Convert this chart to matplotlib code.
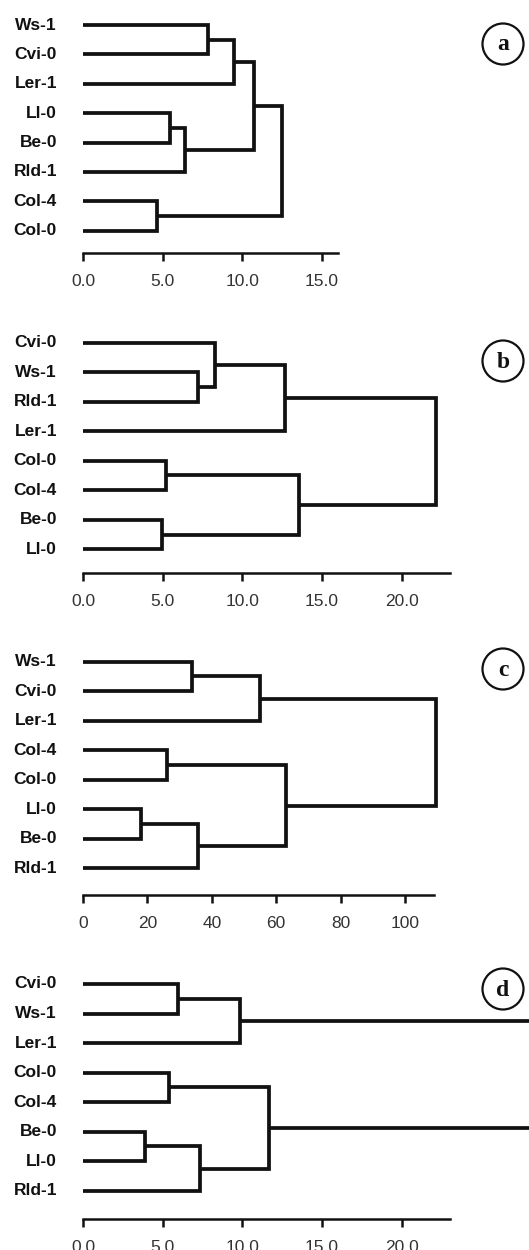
import matplotlib
matplotlib.use("Agg")
import matplotlib.pyplot as plt
from matplotlib.patches import Circle
from matplotlib.ticker import FormatStrFormatter

# ---------------- data ----------------
# panel a
leaves_a = ["Ws-1", "Cvi-0", "Ler-1", "Ll-0", "Be-0", "Rld-1", "Col-4", "Col-0"]
merges_a = [("Ws-1", "Cvi-0", 7.87), ("m0", "Ler-1", 9.50), ("Ll-0", "Be-0", 5.44),
            ("m2", "Rld-1", 6.39), ("m1", "m3", 10.73), ("Col-4", "Col-0", 4.65),
            ("m4", "m5", 12.52)]
ticks_a = [0, 5, 10, 15]

# panel b
leaves_b = ["Cvi-0", "Ws-1", "Rld-1", "Ler-1", "Col-0", "Col-4", "Be-0", "Ll-0"]
merges_b = [("Ws-1", "Rld-1", 7.22), ("Cvi-0", "m0", 8.28), ("m1", "Ler-1", 12.69),
            ("Col-0", "Col-4", 5.21), ("Be-0", "Ll-0", 4.98), ("m3", "m4", 13.58),
            ("m2", "m5", 22.16)]
ticks_b = [0, 5, 10, 15, 20]

# panel c
leaves_c = ["Ws-1", "Cvi-0", "Ler-1", "Col-4", "Col-0", "Ll-0", "Be-0", "Rld-1"]
merges_c = [("Ws-1", "Cvi-0", 33.96), ("m0", "Ler-1", 55.1), ("Col-4", "Col-0", 26.0),
            ("Ll-0", "Be-0", 18.0), ("m3", "Rld-1", 35.8), ("m2", "m4", 63.1),
            ("m1", "m5", 109.6)]
ticks_c = [0, 20, 40, 60, 80, 100]

# panel d
leaves_d = ["Cvi-0", "Ws-1", "Ler-1", "Col-0", "Col-4", "Be-0", "Ll-0", "Rld-1"]
merges_d = [("Cvi-0", "Ws-1", 5.95), ("m0", "Ler-1", 9.87), ("Col-0", "Col-4", 5.38),
            ("Be-0", "Ll-0", 3.90), ("m3", "Rld-1", 7.33), ("m2", "m4", 11.67),
            ("m1", "m5", 30.0)]
ticks_d = [0, 5, 10, 15, 20]

panel_letters = ["a", "b", "c", "d"]

# ---------------- layout (pixels) ----------------
W, H = 529, 1250
DPI = 100
x0_px = 83
# (leaf0 y, axis y, xmax, px per unit, tick format, circle center y)
layout = [
    (25.0, 252.8, 16.0, 15.93, "%.1f", 44),
    (342.7, 573.3, 23.03, 15.93, "%.1f", 361),
    (661.7, 895.0, 108.9, 3.219, "%d", 669),
    (984.0, 1219.3, 23.03, 15.93, "%.1f", 989),
]
spacings = [29.39, 29.51, 29.51, 29.53]

panels = [(leaves_a, merges_a, ticks_a), (leaves_b, merges_b, ticks_b),
          (leaves_c, merges_c, ticks_c), (leaves_d, merges_d, ticks_d)]

plt.rcParams["font.family"] = ["Liberation Sans", "DejaVu Sans"]
fig = plt.figure(figsize=(W / DPI, H / DPI), dpi=DPI)
fig.patch.set_facecolor("white")

LW = 2.7
COL = "#111111"

for (leaves, merges, ticks), (top_px, axis_px, xmax, ppu, fmt, cy), sp in zip(panels, layout, spacings):
    width_px = xmax * ppu
    height_px = axis_px - top_px
    ax = fig.add_axes([x0_px / W, 1 - axis_px / H, width_px / W, height_px / H])
    gap_units = (axis_px - (top_px + 7 * sp)) / sp
    ax.set_xlim(0, xmax)
    ax.set_ylim(7 + gap_units, 0)
    ax.patch.set_alpha(0)

    pos = {name: (float(i), 0.0) for i, name in enumerate(leaves)}
    for k, (l, r, h) in enumerate(merges):
        yl, hl = pos[l]
        yr, hr = pos[r]
        ax.plot([hl, h, h, hr], [yl, yl, yr, yr], color=COL, lw=LW,
                solid_joinstyle="miter", solid_capstyle="butt", clip_on=False)
        pos["m%d" % k] = ((yl + yr) / 2, h)

    for i, name in enumerate(leaves):
        ax.text(-26 / ppu, i, name, ha="right", va="center", fontsize=12.5,
                fontweight="bold", color=COL)

    for s in ["top", "right", "left"]:
        ax.spines[s].set_visible(False)
    ax.spines["bottom"].set_linewidth(1.8)
    ax.spines["bottom"].set_color(COL)
    ax.set_yticks([])
    ax.set_xticks(ticks)
    ax.xaxis.set_major_formatter(FormatStrFormatter(fmt))
    ax.tick_params(axis="x", length=5.5, width=1.8, color=COL, pad=9.5,
                   labelsize=12.5, labelcolor="#333333")

# overlay for circled panel letters
ov = fig.add_axes([0, 0, 1, 1])
ov.set_xlim(0, W)
ov.set_ylim(H, 0)
ov.axis("off")
ov.patch.set_alpha(0)
for letter, lay in zip(panel_letters, layout):
    cy = lay[5]
    ov.add_patch(Circle((503, cy), 20.5, fill=False, lw=1.6, ec=COL))
    ov.text(503, cy + 1, letter, ha="center", va="center", fontsize=17,
            fontweight="bold", family=["Liberation Serif", "DejaVu Serif"], color=COL)

fig.savefig("out.png", dpi=DPI, facecolor="white")
